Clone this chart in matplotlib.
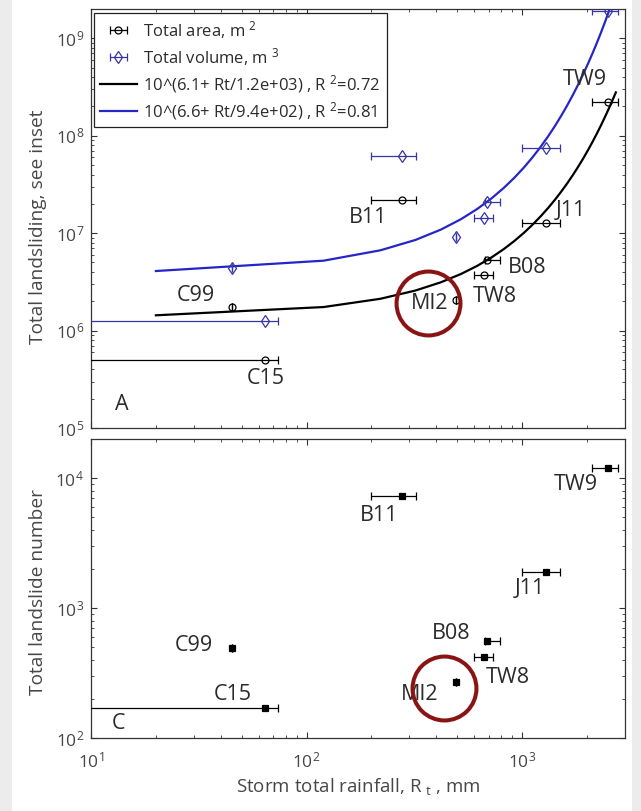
import numpy as np
import matplotlib
matplotlib.use("Agg")
import matplotlib.pyplot as plt
from matplotlib.patches import Rectangle
from matplotlib.ticker import LogLocator, NullFormatter

plt.rcParams["font.family"] = ["Open Sans", "DejaVu Sans"]
plt.rcParams["mathtext.fontset"] = "custom"
plt.rcParams["mathtext.rm"] = "Open Sans"
plt.rcParams["mathtext.it"] = "Open Sans:italic"
plt.rcParams["mathtext.bf"] = "Open Sans:bold"
plt.rcParams["mathtext.default"] = "regular"

# Storm events
events = ["C15", "C99", "B11", "MI2", "TW8", "B08", "J11", "TW9"]
rain = np.array([64, 45, 278, 495, 665, 690, 1290, 2500], dtype=float)       # mm
rain_lo = np.array([1, 45, 198, 495, 600, 670, 1000, 2110], dtype=float)
rain_hi = np.array([74, 45, 323, 495, 735, 790, 1500, 2780], dtype=float)
area = np.array([5.0e5, 1.73e6, 2.2e7, 2.04e6, 3.69e6, 5.3e6, 1.27e7, 2.24e8])     # m^2
volume = np.array([1.24e6, 4.36e6, 6.2e7, 9.1e6, 1.43e7, 2.09e7, 7.5e7, 1.9e9])   # m^3
number = np.array([170, 490, 7270, 269, 420, 557, 1890, 11900], dtype=float)

# Exponential fits  y = 10^(a + Rt/b)
fit_area = dict(a=6.14, b=1180.0, r2=0.72)
fit_vol = dict(a=6.59, b=940.0, r2=0.81)
rt_fit = np.arange(20, 2721, 100)

# label offsets (pixels) for each event in both panels
off_top = {"C15": (1, -19), "C99": (-36, 12), "B11": (-34, -18), "MI2": (-27, -3),
           "TW8": (11, -21), "B08": (40, -7), "J11": (25, 13), "TW9": (-23, 22)}
off_bot = {"C15": (-32, 14), "C99": (-38, 3), "B11": (-23, -19), "MI2": (-37, -12),
           "TW8": (24, -20), "B08": (-36, 8), "J11": (-16, -16), "TW9": (-32, -16)}

TXT = "#2b2b2b"
TICK = "#474747"
BLUE_LINE = "#2626c8"
BLUE_PT = "#3535a8"
RED = "#8a1414"

W, H = 641, 811
fig = plt.figure(figsize=(W / 100, H / 100), dpi=100, facecolor="#ececec")
fig.add_artist(Rectangle((12 / W, 0), 620 / W, 1, transform=fig.transFigure,
                         facecolor="white", edgecolor="none", zorder=-5))

axA = fig.add_axes([91 / W, 1 - 428 / H, 534 / W, 419 / H])
axC = fig.add_axes([91 / W, 1 - 738 / H, 534 / W, 299 / H])

xerr = [rain - rain_lo, rain_hi - rain]
eb = dict(capsize=3, elinewidth=0.9, capthick=0.9, mew=0.9, linestyle="none")

h_area = axA.errorbar(rain, area, xerr=xerr, fmt="o", ms=5, mfc="none", mec="k",
                      ecolor="k", label="Total area, m $^{2}$", zorder=3, **eb)
h_vol = axA.errorbar(rain, volume, xerr=xerr, fmt="d", ms=6.5, mfc="none", mec=BLUE_PT,
                     ecolor=BLUE_PT, label="Total volume, m $^{3}$", zorder=3, **eb)

fit_handles = []
for fit, col in ((fit_area, "k"), (fit_vol, BLUE_LINE)):
    lab = "10^({:.1f}+ Rt/{:.1e}) , R $^{{2}}$={:.2f}".format(fit["a"], fit["b"], fit["r2"])
    ln, = axA.plot(rt_fit, 10 ** (fit["a"] + rt_fit / fit["b"]), color=col, lw=1.6,
                   label=lab, zorder=2)
    fit_handles.append(ln)

axC.errorbar(rain, number, xerr=xerr, fmt="s", ms=4.5, mfc="k", mec="k",
             ecolor="k", zorder=3, **eb)

for name, x, y in zip(events, rain, area):
    axA.annotate(name, (x, y), xytext=off_top[name], textcoords="offset pixels",
                 ha="center", va="center", fontsize=15.5, color=TXT)
for name, x, y in zip(events, rain, number):
    axC.annotate(name, (x, y), xytext=off_bot[name], textcoords="offset pixels",
                 ha="center", va="center", fontsize=15.5, color=TXT)

# highlight rings around MI2
axA.plot([367], [1.9e6], "o", ms=46, mfc="none", mec=RED, mew=2.9, zorder=4)
axC.plot([436], [243], "o", ms=46, mfc="none", mec=RED, mew=2.9, zorder=4)

axA.text(0.058, 0.057, "A", transform=axA.transAxes, ha="center", va="center",
         fontsize=15.5, color=TXT)
axC.text(0.051, 0.05, "C", transform=axC.transAxes, ha="center", va="center",
         fontsize=15.5, color=TXT)

for ax in (axA, axC):
    ax.set_xscale("log")
    ax.set_yscale("log")
    ax.set_xlim(10, 3000)
    for s in ax.spines.values():
        s.set_linewidth(0.9)
        s.set_color("#333333")
    ax.tick_params(which="both", direction="in", top=True, right=True,
                   colors="#333333", labelcolor=TICK, labelsize=12.5)
    ax.tick_params(which="major", length=4, width=0.8)
    ax.tick_params(which="minor", length=2.5, width=0.6)
    ax.tick_params(axis="x", pad=9.5)
    ax.tick_params(axis="y", pad=5)
    ax.yaxis.set_minor_locator(LogLocator(base=10, subs=np.arange(2, 10), numticks=20))
    ax.yaxis.set_minor_formatter(NullFormatter())
    ax.xaxis.set_minor_formatter(NullFormatter())

axA.set_ylim(1e5, 2e9)
axC.set_ylim(100, 2e4)
axA.tick_params(axis="x", labelbottom=False)
axA.yaxis.set_major_locator(LogLocator(base=10, numticks=10))

axA.set_ylabel("Total landsliding, see inset", fontsize=13.8, color=TICK)
axC.set_ylabel("Total landslide number", fontsize=13.8, color=TICK)
axC.set_xlabel("Storm total rainfall, R $_{t}$ , mm", fontsize=13.5, color=TICK)
axA.yaxis.set_label_coords(-0.082, 0.48)
axC.yaxis.set_label_coords(-0.082, 0.488)
axC.xaxis.set_label_coords(0.5, -0.128)

leg = axA.legend([h_area, h_vol] + fit_handles,
                 [h_area.get_label(), h_vol.get_label()] + [h.get_label() for h in fit_handles],
                 loc="upper left", bbox_to_anchor=(0.006, 0.99), borderaxespad=0,
                 fontsize=12, numpoints=1, fancybox=False, framealpha=1,
                 edgecolor="#222222", handlelength=2.2, handletextpad=0.4,
                 borderpad=0.35, labelspacing=0.3)
leg.get_frame().set_linewidth(0.9)
for t in leg.get_texts():
    t.set_color(TXT)

fig.savefig("out.png", dpi=100, facecolor=fig.get_facecolor())
